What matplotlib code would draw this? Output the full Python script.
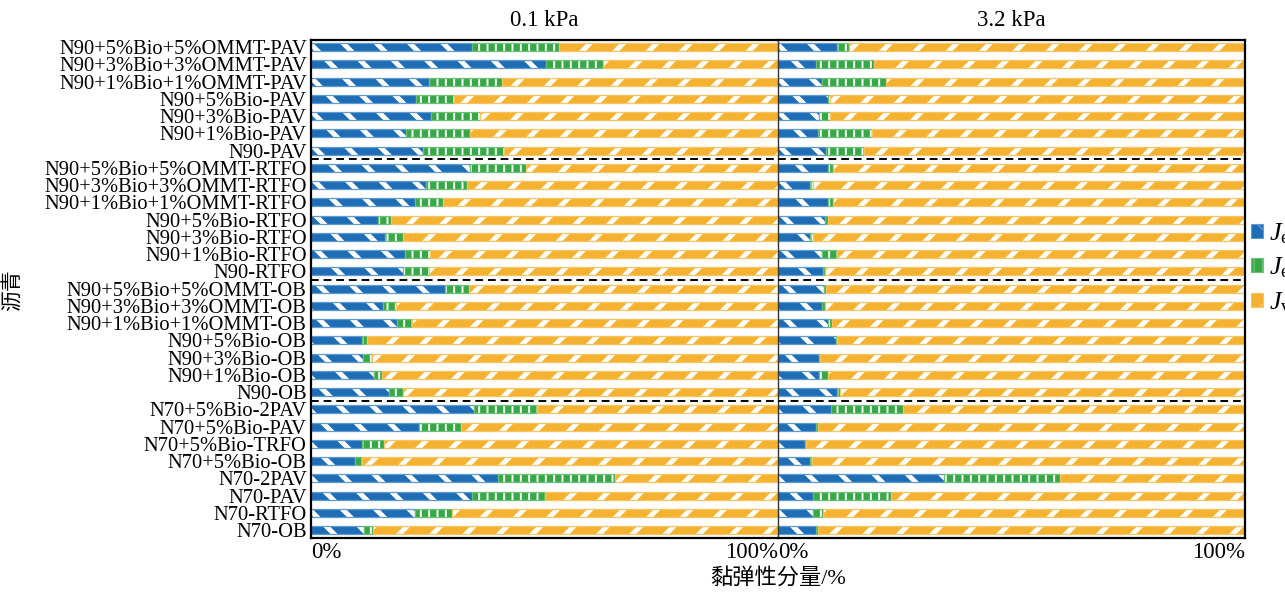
import matplotlib
matplotlib.use("Agg")
import matplotlib.pyplot as plt
from matplotlib.patches import Patch
import numpy as np

plt.rcParams['font.family'] = ['Liberation Serif', 'Noto Sans CJK SC']
plt.rcParams['mathtext.fontset'] = 'custom'
plt.rcParams['mathtext.it'] = 'Liberation Serif:italic'
plt.rcParams['mathtext.rm'] = 'Liberation Serif'

# Binder samples, top to bottom
samples = [
    "N90+5%Bio+5%OMMT-PAV", "N90+3%Bio+3%OMMT-PAV", "N90+1%Bio+1%OMMT-PAV",
    "N90+5%Bio-PAV", "N90+3%Bio-PAV", "N90+1%Bio-PAV", "N90-PAV",
    "N90+5%Bio+5%OMMT-RTFO", "N90+3%Bio+3%OMMT-RTFO", "N90+1%Bio+1%OMMT-RTFO",
    "N90+5%Bio-RTFO", "N90+3%Bio-RTFO", "N90+1%Bio-RTFO", "N90-RTFO",
    "N90+5%Bio+5%OMMT-OB", "N90+3%Bio+3%OMMT-OB", "N90+1%Bio+1%OMMT-OB",
    "N90+5%Bio-OB", "N90+3%Bio-OB", "N90+1%Bio-OB", "N90-OB",
    "N70+5%Bio-2PAV", "N70+5%Bio-PAV", "N70+5%Bio-TRFO", "N70+5%Bio-OB",
    "N70-2PAV", "N70-PAV", "N70-RTFO", "N70-OB",
]

# Elastic (Je) and delayed elastic (Jde) shares, % ; viscous share is the rest
je_01 = [34.5, 50.3, 25.3, 22.4, 25.8, 20.3, 24.0,
         34.0, 24.6, 22.3, 14.3, 15.9, 20.2, 19.6,
         28.7, 15.4, 18.4, 10.9, 11.2, 13.5, 16.8,
         34.9, 23.2, 10.9, 9.4, 40.0, 34.5, 22.3, 11.4]
jde_01 = [18.5, 12.2, 15.7, 8.3, 10.4, 13.7, 17.4,
          12.0, 8.7, 5.9, 2.8, 3.7, 5.3, 5.7,
          5.2, 2.7, 3.2, 1.0, 1.8, 1.6, 2.8,
          13.6, 8.9, 4.7, 1.5, 25.2, 15.5, 7.9, 1.9]
je_32 = [12.6, 8.1, 9.4, 10.6, 8.8, 8.6, 10.3,
         10.6, 6.9, 10.8, 10.1, 6.9, 9.5, 9.7,
         9.9, 9.5, 10.7, 12.4, 8.8, 8.8, 12.6,
         11.3, 8.1, 5.8, 6.9, 35.6, 7.6, 7.6, 8.1]
jde_32 = [2.5, 12.5, 13.7, 0.6, 2.3, 11.5, 8.2,
          1.1, 0.5, 0.9, 0.7, 0.6, 3.1, 0.4,
          0.3, 0.6, 0.9, 0.2, 0.2, 2.0, 0.6,
          15.5, 0.5, 0.2, 0.3, 24.8, 16.6, 2.0, 0.5]

panel_titles = ["0.1 kPa", "3.2 kPa"]
group_breaks = [7, 14, 21]

C_E, C_DE, C_V = "#1f6db5", "#37a846", "#f5b230"
E_E, E_DE, E_V = "#5d9ad6", "#6cc07a", "#f7c462"
H_E, H_DE, H_V = "\\", "||", "/"
LW_E, LW_DE, LW_V = 3.6, 1.4, 3.6

W, H = 1285, 593
fig = plt.figure(figsize=(W / 100, H / 100), dpi=100)

y = np.arange(len(samples))
bar_h = 0.46


def hbar(ax, left, width, color, edge, hatch, hlw):
    with plt.rc_context({"hatch.linewidth": hlw}):
        bars = ax.barh(y, width, left=left, height=bar_h, color=color,
                       edgecolor="white", hatch=hatch, linewidth=0)
    for p in bars:
        if hasattr(p, "set_hatch_linewidth"):
            p.set_hatch_linewidth(hlw)
    ax.barh(y, width, left=left, height=bar_h, fill=False, edgecolor=edge,
            linewidth=0.9)


for k, (je, jde) in enumerate([(je_01, jde_01), (je_32, jde_32)]):
    x0 = 311 if k == 0 else 778
    ax = fig.add_axes([x0 / W, 55 / H, 467 / W, 498 / H])
    je = np.array(je)
    jde = np.array(jde)
    jv = 100 - je - jde
    hbar(ax, 0, je, C_E, E_E, H_E, LW_E)
    hbar(ax, je, jde, C_DE, E_DE, H_DE, LW_DE)
    hbar(ax, je + jde, jv, C_V, E_V, H_V, LW_V)
    ax.set_xlim(0, 100)
    ax.set_ylim(len(samples) - 1 + 0.46, -0.41)
    ax.set_title(panel_titles[k], fontsize=16.5, pad=10)
    ax.tick_params(length=0, pad=3)
    ax.set_xticks([0, 100])
    ax.set_xticklabels(["0%", "100%"], fontsize=16.5)
    lbls = ax.get_xticklabels()
    lbls[0].set_horizontalalignment("left")
    lbls[1].set_horizontalalignment("right")
    for b in group_breaks:
        ax.axhline(b - 0.5, color="black", lw=1.4, ls=(0, (4, 2.5)), zorder=5)
    if k == 0:
        ax.set_yticks(y)
        ax.set_yticklabels(samples, fontsize=14.8)
        for s in ("left", "top", "bottom"):
            ax.spines[s].set_linewidth(1.6)
        ax.spines["right"].set_visible(False)
    else:
        ax.set_yticks([])
        for s in ("right", "top", "bottom"):
            ax.spines[s].set_linewidth(1.6)
        ax.spines["left"].set_linewidth(1.0)
        ax.spines["left"].set_color("#333333")

fig.text(778 / W, 1 - 578 / H, "黏弹性分量/%", ha="center", va="center", fontsize=16)
fig.text(14 / W, 1 - 290 / H, "沥青", ha="center", va="center", rotation=90, fontsize=15)

handles = [
    Patch(facecolor=C_E, edgecolor=E_E, hatch=H_E, linewidth=0.8),
    Patch(facecolor=C_DE, edgecolor=E_DE, hatch=H_DE, linewidth=0.8),
    Patch(facecolor=C_V, edgecolor=E_V, hatch=H_V, linewidth=0.8),
]
labels = [r"$J_{\mathrm{e}}$", r"$J_{\mathrm{ed}}$", r"$J_{\mathrm{v}}$"]
fig.legend(handles, labels, loc="center left", bbox_to_anchor=(1251 / W, 1 - 268 / H),
           frameon=False, fontsize=19, handlelength=0.45, handleheight=0.45,
           handletextpad=0.25, labelspacing=0.38, borderaxespad=0, borderpad=0)

fig.savefig("out.png", dpi=100)
